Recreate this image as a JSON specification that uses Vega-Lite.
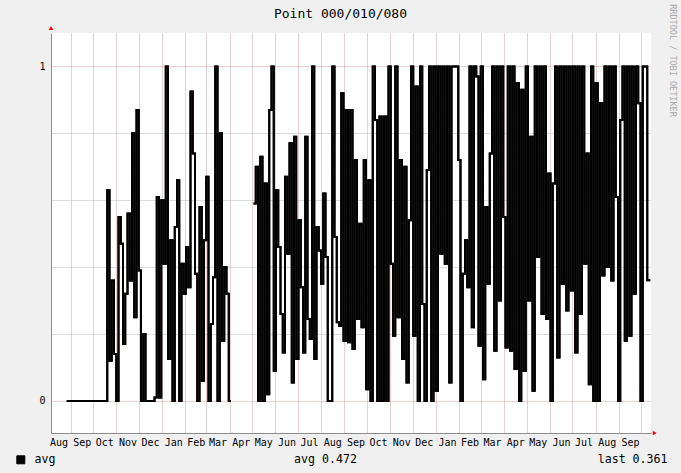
{
  "$schema": "https://vega.github.io/schema/vega-lite/v6.json",
  "width": 600,
  "height": 400,
  "autosize": {"type": "none"},
  "padding": {"left": 51, "top": 33, "right": 30, "bottom": 40},
  "background": "#f0f0f0",
  "config": {
    "view": {"fill": "#ffffff", "stroke": null},
    "font": "DejaVu Sans Mono"
  },
  "data": {
    "values": [
      {"t": "2010-08-27", "v": 0},
      {"t": "2010-10-20", "v": 0.63}, {"t": "2010-10-23", "v": 0.12}, {"t": "2010-10-26", "v": 0.36}, {"t": "2010-10-29", "v": 0.14},
      {"t": "2010-11-01", "v": 0}, {"t": "2010-11-04", "v": 0.55}, {"t": "2010-11-07", "v": 0.47}, {"t": "2010-11-10", "v": 0.17}, {"t": "2010-11-13", "v": 0.32}, {"t": "2010-11-16", "v": 0.56}, {"t": "2010-11-19", "v": 0.36}, {"t": "2010-11-22", "v": 0.8}, {"t": "2010-11-25", "v": 0.25}, {"t": "2010-11-28", "v": 0.87},
      {"t": "2010-12-01", "v": 0.39}, {"t": "2010-12-04", "v": 0}, {"t": "2010-12-07", "v": 0.2}, {"t": "2010-12-10", "v": 0}, {"t": "2010-12-22", "v": 0.01}, {"t": "2010-12-25", "v": 0.61}, {"t": "2010-12-28", "v": 0.01}, {"t": "2010-12-31", "v": 0.6},
      {"t": "2011-01-03", "v": 0.41}, {"t": "2011-01-06", "v": 1}, {"t": "2011-01-09", "v": 0.125}, {"t": "2011-01-12", "v": 0.48}, {"t": "2011-01-15", "v": 0}, {"t": "2011-01-18", "v": 0.52}, {"t": "2011-01-21", "v": 0.66}, {"t": "2011-01-24", "v": 0}, {"t": "2011-01-27", "v": 0.41}, {"t": "2011-01-30", "v": 0.32},
      {"t": "2011-02-02", "v": 0.46}, {"t": "2011-02-05", "v": 0.34}, {"t": "2011-02-08", "v": 0.925}, {"t": "2011-02-11", "v": 0.74}, {"t": "2011-02-14", "v": 0.38}, {"t": "2011-02-17", "v": 0}, {"t": "2011-02-20", "v": 0.58}, {"t": "2011-02-23", "v": 0.06}, {"t": "2011-02-26", "v": 0.48},
      {"t": "2011-03-01", "v": 0.67}, {"t": "2011-03-04", "v": 0}, {"t": "2011-03-07", "v": 0.23}, {"t": "2011-03-10", "v": 0.37}, {"t": "2011-03-13", "v": 1}, {"t": "2011-03-16", "v": 0}, {"t": "2011-03-19", "v": 0.8}, {"t": "2011-03-22", "v": 0.18}, {"t": "2011-03-25", "v": 0.4}, {"t": "2011-03-28", "v": 0.32}, {"t": "2011-03-31", "v": 0},
      {"t": "2011-04-03", "v": 0}, {"t": "2011-04-06", "v": null},
      {"t": "2011-05-03", "v": 0.59}, {"t": "2011-05-06", "v": 0.7}, {"t": "2011-05-09", "v": 0}, {"t": "2011-05-12", "v": 0.73}, {"t": "2011-05-15", "v": 0}, {"t": "2011-05-18", "v": 0.65}, {"t": "2011-05-21", "v": 0.02}, {"t": "2011-05-24", "v": 0.87}, {"t": "2011-05-27", "v": 1}, {"t": "2011-05-30", "v": 0.09},
      {"t": "2011-06-02", "v": 0.63}, {"t": "2011-06-05", "v": 0.46}, {"t": "2011-06-08", "v": 0.26}, {"t": "2011-06-11", "v": 0.145}, {"t": "2011-06-14", "v": 0.67}, {"t": "2011-06-17", "v": 0.44}, {"t": "2011-06-20", "v": 0.77}, {"t": "2011-06-23", "v": 0.055}, {"t": "2011-06-26", "v": 0.79}, {"t": "2011-06-29", "v": 0.125},
      {"t": "2011-07-02", "v": 0.54}, {"t": "2011-07-05", "v": 0.34}, {"t": "2011-07-08", "v": 0.145}, {"t": "2011-07-11", "v": 0.79}, {"t": "2011-07-14", "v": 0.245}, {"t": "2011-07-17", "v": 0.185}, {"t": "2011-07-20", "v": 1}, {"t": "2011-07-23", "v": 0.125}, {"t": "2011-07-26", "v": 0.52}, {"t": "2011-07-29", "v": 0.45},
      {"t": "2011-08-01", "v": 0.35}, {"t": "2011-08-04", "v": 0.62}, {"t": "2011-08-07", "v": 0.43}, {"t": "2011-08-10", "v": 0}, {"t": "2011-08-16", "v": 1}, {"t": "2011-08-19", "v": 0.49}, {"t": "2011-08-22", "v": 0.235}, {"t": "2011-08-25", "v": 0.225}, {"t": "2011-08-28", "v": 0.92}, {"t": "2011-08-31", "v": 0.18},
      {"t": "2011-09-03", "v": 0.87}, {"t": "2011-09-06", "v": 0.175}, {"t": "2011-09-09", "v": 0.87}, {"t": "2011-09-12", "v": 0.155}, {"t": "2011-09-15", "v": 0.72}, {"t": "2011-09-18", "v": 0.245}, {"t": "2011-09-21", "v": 0.53}, {"t": "2011-09-24", "v": 0.22}, {"t": "2011-09-27", "v": 0.72}, {"t": "2011-09-30", "v": 0.035},
      {"t": "2011-10-03", "v": 0.66}, {"t": "2011-10-06", "v": 0}, {"t": "2011-10-09", "v": 1}, {"t": "2011-10-12", "v": 0.84}, {"t": "2011-10-15", "v": 0}, {"t": "2011-10-18", "v": 0.85}, {"t": "2011-10-21", "v": 0}, {"t": "2011-10-24", "v": 0.85}, {"t": "2011-10-27", "v": 0}, {"t": "2011-10-30", "v": 1},
      {"t": "2011-11-02", "v": 0.41}, {"t": "2011-11-05", "v": 0.195}, {"t": "2011-11-08", "v": 1}, {"t": "2011-11-11", "v": 0.25}, {"t": "2011-11-14", "v": 0.72}, {"t": "2011-11-17", "v": 0.125}, {"t": "2011-11-20", "v": 0.7}, {"t": "2011-11-23", "v": 0.055}, {"t": "2011-11-26", "v": 0.54}, {"t": "2011-11-29", "v": 1},
      {"t": "2011-12-02", "v": 0.195}, {"t": "2011-12-05", "v": 0.94}, {"t": "2011-12-08", "v": 0}, {"t": "2011-12-11", "v": 1}, {"t": "2011-12-14", "v": 0.29}, {"t": "2011-12-17", "v": 0}, {"t": "2011-12-20", "v": 0.69}, {"t": "2011-12-23", "v": 1}, {"t": "2011-12-26", "v": 0}, {"t": "2011-12-29", "v": 1},
      {"t": "2012-01-01", "v": 0.03}, {"t": "2012-01-04", "v": 1}, {"t": "2012-01-07", "v": 0.44}, {"t": "2012-01-10", "v": 1}, {"t": "2012-01-13", "v": 0.41}, {"t": "2012-01-16", "v": 1}, {"t": "2012-01-19", "v": 0.055}, {"t": "2012-01-22", "v": 1}, {"t": "2012-01-31", "v": 0.72},
      {"t": "2012-02-03", "v": 0}, {"t": "2012-02-06", "v": 0.38}, {"t": "2012-02-09", "v": 0.48}, {"t": "2012-02-12", "v": 0.34}, {"t": "2012-02-15", "v": 1}, {"t": "2012-02-18", "v": 0.22}, {"t": "2012-02-21", "v": 1}, {"t": "2012-02-24", "v": 0.97}, {"t": "2012-02-27", "v": 0.165},
      {"t": "2012-03-01", "v": 1}, {"t": "2012-03-04", "v": 0.065}, {"t": "2012-03-07", "v": 0.58}, {"t": "2012-03-10", "v": 0.35}, {"t": "2012-03-13", "v": 0.74}, {"t": "2012-03-16", "v": 1}, {"t": "2012-03-19", "v": 0.15}, {"t": "2012-03-22", "v": 1}, {"t": "2012-03-25", "v": 0.3}, {"t": "2012-03-28", "v": 1}, {"t": "2012-03-31", "v": 0.55},
      {"t": "2012-04-03", "v": 0.16}, {"t": "2012-04-06", "v": 1}, {"t": "2012-04-09", "v": 0.15}, {"t": "2012-04-12", "v": 1}, {"t": "2012-04-15", "v": 0.095}, {"t": "2012-04-18", "v": 0.95}, {"t": "2012-04-21", "v": 0}, {"t": "2012-04-24", "v": 0.93}, {"t": "2012-04-27", "v": 0.09}, {"t": "2012-04-30", "v": 1},
      {"t": "2012-05-03", "v": 0.3}, {"t": "2012-05-06", "v": 0.79}, {"t": "2012-05-09", "v": 0.03}, {"t": "2012-05-12", "v": 1}, {"t": "2012-05-15", "v": 0.43}, {"t": "2012-05-18", "v": 1}, {"t": "2012-05-21", "v": 0.26}, {"t": "2012-05-24", "v": 1}, {"t": "2012-05-27", "v": 0.245}, {"t": "2012-05-30", "v": 0.68},
      {"t": "2012-06-02", "v": 0}, {"t": "2012-06-05", "v": 0.65}, {"t": "2012-06-08", "v": 1}, {"t": "2012-06-11", "v": 0.13}, {"t": "2012-06-14", "v": 1}, {"t": "2012-06-17", "v": 0.35}, {"t": "2012-06-20", "v": 1}, {"t": "2012-06-23", "v": 0.27}, {"t": "2012-06-26", "v": 1}, {"t": "2012-06-29", "v": 0.33},
      {"t": "2012-07-02", "v": 1}, {"t": "2012-07-05", "v": 0.145}, {"t": "2012-07-08", "v": 1}, {"t": "2012-07-11", "v": 0.26}, {"t": "2012-07-14", "v": 1}, {"t": "2012-07-17", "v": 0.41}, {"t": "2012-07-20", "v": 0.74}, {"t": "2012-07-23", "v": 0.05}, {"t": "2012-07-26", "v": 1}, {"t": "2012-07-29", "v": 0},
      {"t": "2012-08-01", "v": 0.95}, {"t": "2012-08-04", "v": 0}, {"t": "2012-08-07", "v": 0.89}, {"t": "2012-08-10", "v": 0.375}, {"t": "2012-08-13", "v": 1}, {"t": "2012-08-16", "v": 0.4}, {"t": "2012-08-19", "v": 1}, {"t": "2012-08-22", "v": 0.36}, {"t": "2012-08-25", "v": 1}, {"t": "2012-08-28", "v": 0.61}, {"t": "2012-08-31", "v": 0},
      {"t": "2012-09-03", "v": 0.84}, {"t": "2012-09-06", "v": 1}, {"t": "2012-09-09", "v": 0.18}, {"t": "2012-09-12", "v": 1}, {"t": "2012-09-15", "v": 0.195}, {"t": "2012-09-18", "v": 1}, {"t": "2012-09-21", "v": 0.32}, {"t": "2012-09-24", "v": 1}, {"t": "2012-09-27", "v": 0.89}, {"t": "2012-09-30", "v": 0},
      {"t": "2012-10-03", "v": 1}, {"t": "2012-10-09", "v": 0.361}, {"t": "2012-10-13", "v": 0.361}
    ]
  },
  "layer": [
    {
      "mark": {"type": "line", "interpolate": "step-after", "strokeWidth": 2, "strokeCap": "butt", "strokeJoin": "miter", "invalid": "break-paths-filter-domains"},
      "encoding": {
        "x": {
          "field": "t", "type": "temporal",
          "scale": {"type": "utc", "domain": [{"year": 2010, "month": 8, "date": 6, "utc": true}, {"year": 2012, "month": 10, "date": 14, "utc": true}]},
          "axis": {
            "orient": "bottom",
            "values": [
              {"year": 2010, "month": 9, "date": 1, "utc": true}, {"year": 2010, "month": 10, "date": 1, "utc": true}, {"year": 2010, "month": 11, "date": 1, "utc": true}, {"year": 2010, "month": 12, "date": 1, "utc": true},
              {"year": 2011, "month": 1, "date": 1, "utc": true}, {"year": 2011, "month": 2, "date": 1, "utc": true}, {"year": 2011, "month": 3, "date": 1, "utc": true}, {"year": 2011, "month": 4, "date": 1, "utc": true}, {"year": 2011, "month": 5, "date": 1, "utc": true}, {"year": 2011, "month": 6, "date": 1, "utc": true}, {"year": 2011, "month": 7, "date": 1, "utc": true}, {"year": 2011, "month": 8, "date": 1, "utc": true}, {"year": 2011, "month": 9, "date": 1, "utc": true}, {"year": 2011, "month": 10, "date": 1, "utc": true}, {"year": 2011, "month": 11, "date": 1, "utc": true}, {"year": 2011, "month": 12, "date": 1, "utc": true},
              {"year": 2012, "month": 1, "date": 1, "utc": true}, {"year": 2012, "month": 2, "date": 1, "utc": true}, {"year": 2012, "month": 3, "date": 1, "utc": true}, {"year": 2012, "month": 4, "date": 1, "utc": true}, {"year": 2012, "month": 5, "date": 1, "utc": true}, {"year": 2012, "month": 6, "date": 1, "utc": true}, {"year": 2012, "month": 7, "date": 1, "utc": true}, {"year": 2012, "month": 8, "date": 1, "utc": true}, {"year": 2012, "month": 9, "date": 1, "utc": true}, {"year": 2012, "month": 10, "date": 1, "utc": true}
            ],
            "grid": true, "gridColor": "#dd9c9c", "gridDash": [1, 1], "gridOpacity": 1, "gridWidth": 1,
            "labels": false, "ticks": false, "tickSize": 0,
            "domain": true, "domainColor": "#8c8c8c", "domainWidth": 1,
            "title": "avg 0.472", "titleX": 274, "titleY": 26, "titleAlign": "center", "titleBaseline": "middle",
            "titleFont": "DejaVu Sans Mono", "titleFontSize": 11.6, "titleFontWeight": "normal", "titleColor": "#000000"
          }
        },
        "y": {
          "field": "v", "type": "quantitative",
          "scale": {"domain": [-0.096, 1.1], "nice": false, "zero": false},
          "axis": {
            "orient": "left",
            "values": [0, 0.2, 0.4, 0.6, 0.8, 1],
            "grid": true,
            "gridColor": {"condition": {"test": "datum.value === 0 || datum.value === 1", "value": "#dd9c9c"}, "value": "#b8b8b8"},
            "gridDash": [1, 1], "gridOpacity": 1, "gridWidth": 1,
            "ticks": false, "tickSize": 0,
            "labelExpr": "datum.value === 0 ? '0' : (datum.value === 1 ? '1' : '')",
            "labelFont": "DejaVu Sans Mono", "labelFontSize": 10, "labelColor": "#000000", "labelPadding": 6,
            "domain": true, "domainColor": "#8c8c8c", "domainWidth": 1,
            "title": "last 0.361", "titleAngle": 0, "titleX": 616, "titleY": 426, "titleAlign": "right", "titleBaseline": "middle",
            "titleFont": "DejaVu Sans Mono", "titleFontSize": 11.6, "titleFontWeight": "normal", "titleColor": "#000000"
          }
        },
        "color": {
          "datum": "avg",
          "scale": {"range": ["#000000"]},
          "legend": {
            "orient": "none", "legendX": -36, "legendY": 421, "title": null, "padding": 0,
            "symbolType": "square", "symbolSize": 64, "symbolFillColor": "#000000", "symbolStrokeColor": "#000000", "symbolStrokeWidth": 1,
            "labelFont": "DejaVu Sans Mono", "labelFontSize": 11.6, "labelColor": "#000000", "labelOffset": 8
          }
        }
      }
    },
    {
      "mark": {"type": "line", "interpolate": "step-after", "strokeWidth": 2, "strokeCap": "butt", "strokeJoin": "miter", "color": "#000000", "invalid": "break-paths-filter-domains"},
      "encoding": {
        "x": {
          "field": "t", "type": "temporal",
          "scale": {"type": "utc", "domain": [{"year": 2010, "month": 8, "date": 6, "utc": true}, {"year": 2012, "month": 10, "date": 14, "utc": true}]},
          "axis": {
            "orient": "bottom",
            "values": [
              {"year": 2010, "month": 8, "date": 16, "utc": true}, {"year": 2010, "month": 9, "date": 16, "utc": true}, {"year": 2010, "month": 10, "date": 16, "utc": true}, {"year": 2010, "month": 11, "date": 16, "utc": true}, {"year": 2010, "month": 12, "date": 16, "utc": true},
              {"year": 2011, "month": 1, "date": 16, "utc": true}, {"year": 2011, "month": 2, "date": 15, "utc": true}, {"year": 2011, "month": 3, "date": 16, "utc": true}, {"year": 2011, "month": 4, "date": 16, "utc": true}, {"year": 2011, "month": 5, "date": 16, "utc": true}, {"year": 2011, "month": 6, "date": 16, "utc": true}, {"year": 2011, "month": 7, "date": 16, "utc": true}, {"year": 2011, "month": 8, "date": 16, "utc": true}, {"year": 2011, "month": 9, "date": 16, "utc": true}, {"year": 2011, "month": 10, "date": 16, "utc": true}, {"year": 2011, "month": 11, "date": 16, "utc": true}, {"year": 2011, "month": 12, "date": 16, "utc": true},
              {"year": 2012, "month": 1, "date": 16, "utc": true}, {"year": 2012, "month": 2, "date": 15, "utc": true}, {"year": 2012, "month": 3, "date": 16, "utc": true}, {"year": 2012, "month": 4, "date": 16, "utc": true}, {"year": 2012, "month": 5, "date": 16, "utc": true}, {"year": 2012, "month": 6, "date": 16, "utc": true}, {"year": 2012, "month": 7, "date": 16, "utc": true}, {"year": 2012, "month": 8, "date": 16, "utc": true}, {"year": 2012, "month": 9, "date": 16, "utc": true}
            ],
            "grid": false, "ticks": false, "tickSize": 0, "domain": false,
            "labelExpr": "utcFormat(datum.value, '%b')",
            "labelFont": "DejaVu Sans Mono", "labelFontSize": 10, "labelColor": "#000000",
            "labelPadding": 4, "labelBaseline": "top", "labelOverlap": false, "labelFlush": false, "labelBound": false,
            "title": null
          }
        },
        "y": {
          "field": "v", "type": "quantitative",
          "scale": {"domain": [-0.096, 1.1], "nice": false, "zero": false},
          "axis": {
            "orient": "right", "grid": false, "ticks": false, "labels": false, "domain": false,
            "title": "RRDTOOL / TOBI OETIKER", "titleAngle": 90, "titleX": 21.5, "titleY": 27, "titleAlign": "center", "titleBaseline": "middle",
            "titleFont": "DejaVu Sans Mono", "titleFontSize": 8.5, "titleFontWeight": "normal", "titleColor": "#a8a8a8"
          }
        }
      }
    },
    {
      "data": {"values": [{}]},
      "mark": {"type": "point", "shape": "triangle-right", "filled": true, "color": "#ff0000", "size": 22, "opacity": 1},
      "encoding": {
        "x": {
          "datum": {"year": 2012, "month": 10, "date": 19, "utc": true}, "type": "temporal",
          "scale": {"type": "utc", "domain": [{"year": 2010, "month": 8, "date": 6, "utc": true}, {"year": 2012, "month": 10, "date": 14, "utc": true}]},
          "axis": {
            "orient": "top", "grid": false, "ticks": false, "labels": false, "domain": false,
            "title": "Point 000/010/080", "titleX": 289, "titleY": -20, "titleAlign": "center", "titleBaseline": "middle",
            "titleFont": "DejaVu Sans Mono", "titleFontSize": 13, "titleFontWeight": "normal", "titleColor": "#000000"
          }
        },
        "y": {"datum": -0.096, "type": "quantitative", "scale": {"domain": [-0.096, 1.1], "nice": false, "zero": false}, "axis": null}
      }
    },
    {
      "data": {"values": [{}]},
      "mark": {"type": "point", "shape": "triangle-up", "filled": true, "color": "#ff0000", "size": 22, "opacity": 1},
      "encoding": {
        "x": {"datum": {"year": 2010, "month": 8, "date": 6, "utc": true}, "type": "temporal", "scale": {"type": "utc", "domain": [{"year": 2010, "month": 8, "date": 6, "utc": true}, {"year": 2012, "month": 10, "date": 14, "utc": true}]}, "axis": null},
        "y": {"datum": 1.115, "type": "quantitative", "scale": {"domain": [-0.096, 1.1], "nice": false, "zero": false}, "axis": null}
      }
    }
  ],
  "resolve": {"axis": {"x": "independent", "y": "independent"}}
}
